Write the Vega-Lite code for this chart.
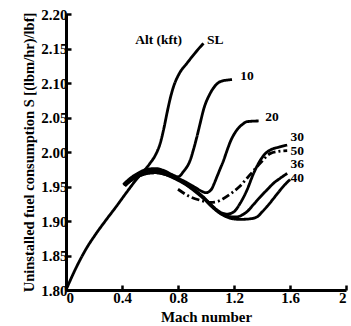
{
  "$schema": "https://vega.github.io/schema/vega-lite/v6.json",
  "width": 280,
  "height": 276,
  "autosize": {"type": "none"},
  "padding": {"left": 66, "top": 14, "right": 5, "bottom": 36},
  "background": "white",
  "config": {
    "view": {"stroke": null},
    "font": "Liberation Serif",
    "axis": {
      "grid": false,
      "domainColor": "black",
      "domainWidth": 3,
      "tickColor": "black",
      "tickWidth": 2.5,
      "tickSize": -5,
      "labelFont": "Liberation Serif",
      "labelFontWeight": "bold",
      "labelFontSize": 15,
      "labelColor": "black",
      "labelOverlap": false,
      "titleFont": "Liberation Serif",
      "titleFontWeight": "bold",
      "titleFontSize": 15,
      "titleColor": "black"
    }
  },
  "layer": [
    {
      "data": {
        "values": [
          {"alt": "SL", "M": 0.0, "S": 1.800},
          {"alt": "SL", "M": 0.074, "S": 1.833},
          {"alt": "SL", "M": 0.145, "S": 1.860},
          {"alt": "SL", "M": 0.216, "S": 1.882},
          {"alt": "SL", "M": 0.288, "S": 1.902},
          {"alt": "SL", "M": 0.359, "S": 1.921},
          {"alt": "SL", "M": 0.431, "S": 1.941},
          {"alt": "SL", "M": 0.502, "S": 1.960},
          {"alt": "SL", "M": 0.55, "S": 1.971},
          {"alt": "SL", "M": 0.60, "S": 1.9836},
          {"alt": "SL", "M": 0.64, "S": 1.996},
          {"alt": "SL", "M": 0.673, "S": 2.0126},
          {"alt": "SL", "M": 0.70, "S": 2.035},
          {"alt": "SL", "M": 0.721, "S": 2.056},
          {"alt": "SL", "M": 0.745, "S": 2.078},
          {"alt": "SL", "M": 0.768, "S": 2.0946},
          {"alt": "SL", "M": 0.81, "S": 2.114},
          {"alt": "SL", "M": 0.864, "S": 2.1286},
          {"alt": "SL", "M": 0.92, "S": 2.143},
          {"alt": "SL", "M": 0.982, "S": 2.1575},

          {"alt": "10", "M": 0.41, "S": 1.953},
          {"alt": "10", "M": 0.46, "S": 1.962},
          {"alt": "10", "M": 0.52, "S": 1.970},
          {"alt": "10", "M": 0.58, "S": 1.975},
          {"alt": "10", "M": 0.64, "S": 1.976},
          {"alt": "10", "M": 0.70, "S": 1.973},
          {"alt": "10", "M": 0.76, "S": 1.967},
          {"alt": "10", "M": 0.80, "S": 1.964},
          {"alt": "10", "M": 0.84, "S": 1.972},
          {"alt": "10", "M": 0.887, "S": 1.988},
          {"alt": "10", "M": 0.91, "S": 2.003},
          {"alt": "10", "M": 0.935, "S": 2.022},
          {"alt": "10", "M": 0.96, "S": 2.043},
          {"alt": "10", "M": 0.982, "S": 2.061},
          {"alt": "10", "M": 1.03, "S": 2.085},
          {"alt": "10", "M": 1.07, "S": 2.097},
          {"alt": "10", "M": 1.102, "S": 2.102},
          {"alt": "10", "M": 1.186, "S": 2.105},

          {"alt": "20", "M": 0.41, "S": 1.952},
          {"alt": "20", "M": 0.46, "S": 1.960},
          {"alt": "20", "M": 0.52, "S": 1.968},
          {"alt": "20", "M": 0.58, "S": 1.973},
          {"alt": "20", "M": 0.64, "S": 1.974},
          {"alt": "20", "M": 0.70, "S": 1.971},
          {"alt": "20", "M": 0.76, "S": 1.966},
          {"alt": "20", "M": 0.80, "S": 1.962},
          {"alt": "20", "M": 0.86, "S": 1.956},
          {"alt": "20", "M": 0.92, "S": 1.949},
          {"alt": "20", "M": 0.97, "S": 1.943},
          {"alt": "20", "M": 1.00, "S": 1.941},
          {"alt": "20", "M": 1.025, "S": 1.943},
          {"alt": "20", "M": 1.045, "S": 1.948},
          {"alt": "20", "M": 1.06, "S": 1.955},
          {"alt": "20", "M": 1.078, "S": 1.964},
          {"alt": "20", "M": 1.10, "S": 1.975},
          {"alt": "20", "M": 1.126, "S": 1.988},
          {"alt": "20", "M": 1.15, "S": 2.002},
          {"alt": "20", "M": 1.174, "S": 2.015},
          {"alt": "20", "M": 1.221, "S": 2.032},
          {"alt": "20", "M": 1.26, "S": 2.040},
          {"alt": "20", "M": 1.293, "S": 2.044},
          {"alt": "20", "M": 1.376, "S": 2.045},

          {"alt": "30", "M": 0.42, "S": 1.952},
          {"alt": "30", "M": 0.46, "S": 1.959},
          {"alt": "30", "M": 0.52, "S": 1.966},
          {"alt": "30", "M": 0.58, "S": 1.970},
          {"alt": "30", "M": 0.64, "S": 1.971},
          {"alt": "30", "M": 0.70, "S": 1.969},
          {"alt": "30", "M": 0.76, "S": 1.965},
          {"alt": "30", "M": 0.80, "S": 1.961},
          {"alt": "30", "M": 0.86, "S": 1.954},
          {"alt": "30", "M": 0.92, "S": 1.945},
          {"alt": "30", "M": 0.98, "S": 1.935},
          {"alt": "30", "M": 1.04, "S": 1.923},
          {"alt": "30", "M": 1.10, "S": 1.913},
          {"alt": "30", "M": 1.15, "S": 1.910},
          {"alt": "30", "M": 1.197, "S": 1.913},
          {"alt": "30", "M": 1.245, "S": 1.926},
          {"alt": "30", "M": 1.293, "S": 1.945},
          {"alt": "30", "M": 1.34, "S": 1.969},
          {"alt": "30", "M": 1.388, "S": 1.988},
          {"alt": "30", "M": 1.42, "S": 1.997},
          {"alt": "30", "M": 1.46, "S": 2.003},
          {"alt": "30", "M": 1.52, "S": 2.007},
          {"alt": "30", "M": 1.58, "S": 2.010},

          {"alt": "36", "M": 0.42, "S": 1.951},
          {"alt": "36", "M": 0.46, "S": 1.958},
          {"alt": "36", "M": 0.52, "S": 1.965},
          {"alt": "36", "M": 0.58, "S": 1.969},
          {"alt": "36", "M": 0.64, "S": 1.970},
          {"alt": "36", "M": 0.70, "S": 1.968},
          {"alt": "36", "M": 0.76, "S": 1.964},
          {"alt": "36", "M": 0.80, "S": 1.960},
          {"alt": "36", "M": 0.86, "S": 1.953},
          {"alt": "36", "M": 0.92, "S": 1.944},
          {"alt": "36", "M": 0.98, "S": 1.934},
          {"alt": "36", "M": 1.04, "S": 1.922},
          {"alt": "36", "M": 1.10, "S": 1.912},
          {"alt": "36", "M": 1.15, "S": 1.907},
          {"alt": "36", "M": 1.19, "S": 1.906},
          {"alt": "36", "M": 1.221, "S": 1.906},
          {"alt": "36", "M": 1.26, "S": 1.909},
          {"alt": "36", "M": 1.293, "S": 1.9135},
          {"alt": "36", "M": 1.34, "S": 1.924},
          {"alt": "36", "M": 1.388, "S": 1.935},
          {"alt": "36", "M": 1.44, "S": 1.946},
          {"alt": "36", "M": 1.484, "S": 1.955},
          {"alt": "36", "M": 1.53, "S": 1.962},
          {"alt": "36", "M": 1.58, "S": 1.969},

          {"alt": "40", "M": 0.42, "S": 1.951},
          {"alt": "40", "M": 0.46, "S": 1.958},
          {"alt": "40", "M": 0.52, "S": 1.965},
          {"alt": "40", "M": 0.58, "S": 1.969},
          {"alt": "40", "M": 0.64, "S": 1.970},
          {"alt": "40", "M": 0.70, "S": 1.968},
          {"alt": "40", "M": 0.76, "S": 1.963},
          {"alt": "40", "M": 0.80, "S": 1.959},
          {"alt": "40", "M": 0.86, "S": 1.952},
          {"alt": "40", "M": 0.92, "S": 1.943},
          {"alt": "40", "M": 0.98, "S": 1.933},
          {"alt": "40", "M": 1.04, "S": 1.921},
          {"alt": "40", "M": 1.10, "S": 1.911},
          {"alt": "40", "M": 1.16, "S": 1.905},
          {"alt": "40", "M": 1.197, "S": 1.903},
          {"alt": "40", "M": 1.23, "S": 1.9025},
          {"alt": "40", "M": 1.269, "S": 1.9025},
          {"alt": "40", "M": 1.31, "S": 1.903},
          {"alt": "40", "M": 1.365, "S": 1.906},
          {"alt": "40", "M": 1.40, "S": 1.913},
          {"alt": "40", "M": 1.436, "S": 1.921},
          {"alt": "40", "M": 1.48, "S": 1.932},
          {"alt": "40", "M": 1.531, "S": 1.945},
          {"alt": "40", "M": 1.565, "S": 1.953},
          {"alt": "40", "M": 1.60, "S": 1.960},

          {"alt": "50", "M": 0.80, "S": 1.946},
          {"alt": "50", "M": 0.887, "S": 1.935},
          {"alt": "50", "M": 0.96, "S": 1.930},
          {"alt": "50", "M": 1.03, "S": 1.927},
          {"alt": "50", "M": 1.078, "S": 1.928},
          {"alt": "50", "M": 1.12, "S": 1.932},
          {"alt": "50", "M": 1.18, "S": 1.940},
          {"alt": "50", "M": 1.24, "S": 1.950},
          {"alt": "50", "M": 1.293, "S": 1.962},
          {"alt": "50", "M": 1.34, "S": 1.973},
          {"alt": "50", "M": 1.388, "S": 1.984},
          {"alt": "50", "M": 1.46, "S": 1.998},
          {"alt": "50", "M": 1.52, "S": 2.001},
          {"alt": "50", "M": 1.58, "S": 2.002}
        ]
      },
      "mark": {"type": "line", "interpolate": "monotone", "color": "black", "strokeWidth": 2.8},
      "encoding": {
        "x": {
          "field": "M", "type": "quantitative",
          "scale": {"domain": [0, 2], "nice": false},
          "axis": {"values": [0, 0.4, 0.8, 1.2, 1.6, 2], "tickCount": 10, "format": "~g", "title": "Mach number", "labelPadding": 5, "titlePadding": 4, "labelFontWeight": "bold", "labelOverlap": false}
        },
        "y": {
          "field": "S", "type": "quantitative",
          "scale": {"domain": [1.8, 2.2], "nice": false, "zero": false},
          "axis": {"values": [1.8, 1.85, 1.9, 1.95, 2.0, 2.05, 2.1, 2.15, 2.2], "tickCount": 12, "format": ".2f", "title": "Uninstalled fuel consumption S [(lbm/hr)/lbf]", "titleFontSize": 14.5, "labelPadding": 4, "titlePadding": 4, "labelFontWeight": "bold", "labelOverlap": false}
        },
        "detail": {"field": "alt"},
        "strokeDash": {
          "field": "alt", "type": "nominal",
          "scale": {"domain": ["SL", "10", "20", "30", "36", "40", "50"], "range": [[1, 0], [1, 0], [1, 0], [1, 0], [1, 0], [1, 0], [8, 3, 2, 3]]},
          "legend": null
        }
      }
    },
    {
      "data": {
        "values": [
          {"label": "Alt (kft)", "M": 0.494, "S": 2.163},
          {"label": "SL", "M": 1.007, "S": 2.163},
          {"label": "10", "M": 1.245, "S": 2.110},
          {"label": "20", "M": 1.424, "S": 2.051},
          {"label": "30", "M": 1.603, "S": 2.022},
          {"label": "50", "M": 1.603, "S": 2.002},
          {"label": "36", "M": 1.603, "S": 1.982},
          {"label": "40", "M": 1.603, "S": 1.962}
        ]
      },
      "mark": {"type": "text", "align": "left", "baseline": "middle", "font": "Liberation Serif", "fontWeight": "bold", "fontSize": 13.5, "color": "black"},
      "encoding": {
        "x": {"field": "M", "type": "quantitative"},
        "y": {"field": "S", "type": "quantitative"},
        "text": {"field": "label"}
      }
    }
  ]
}
